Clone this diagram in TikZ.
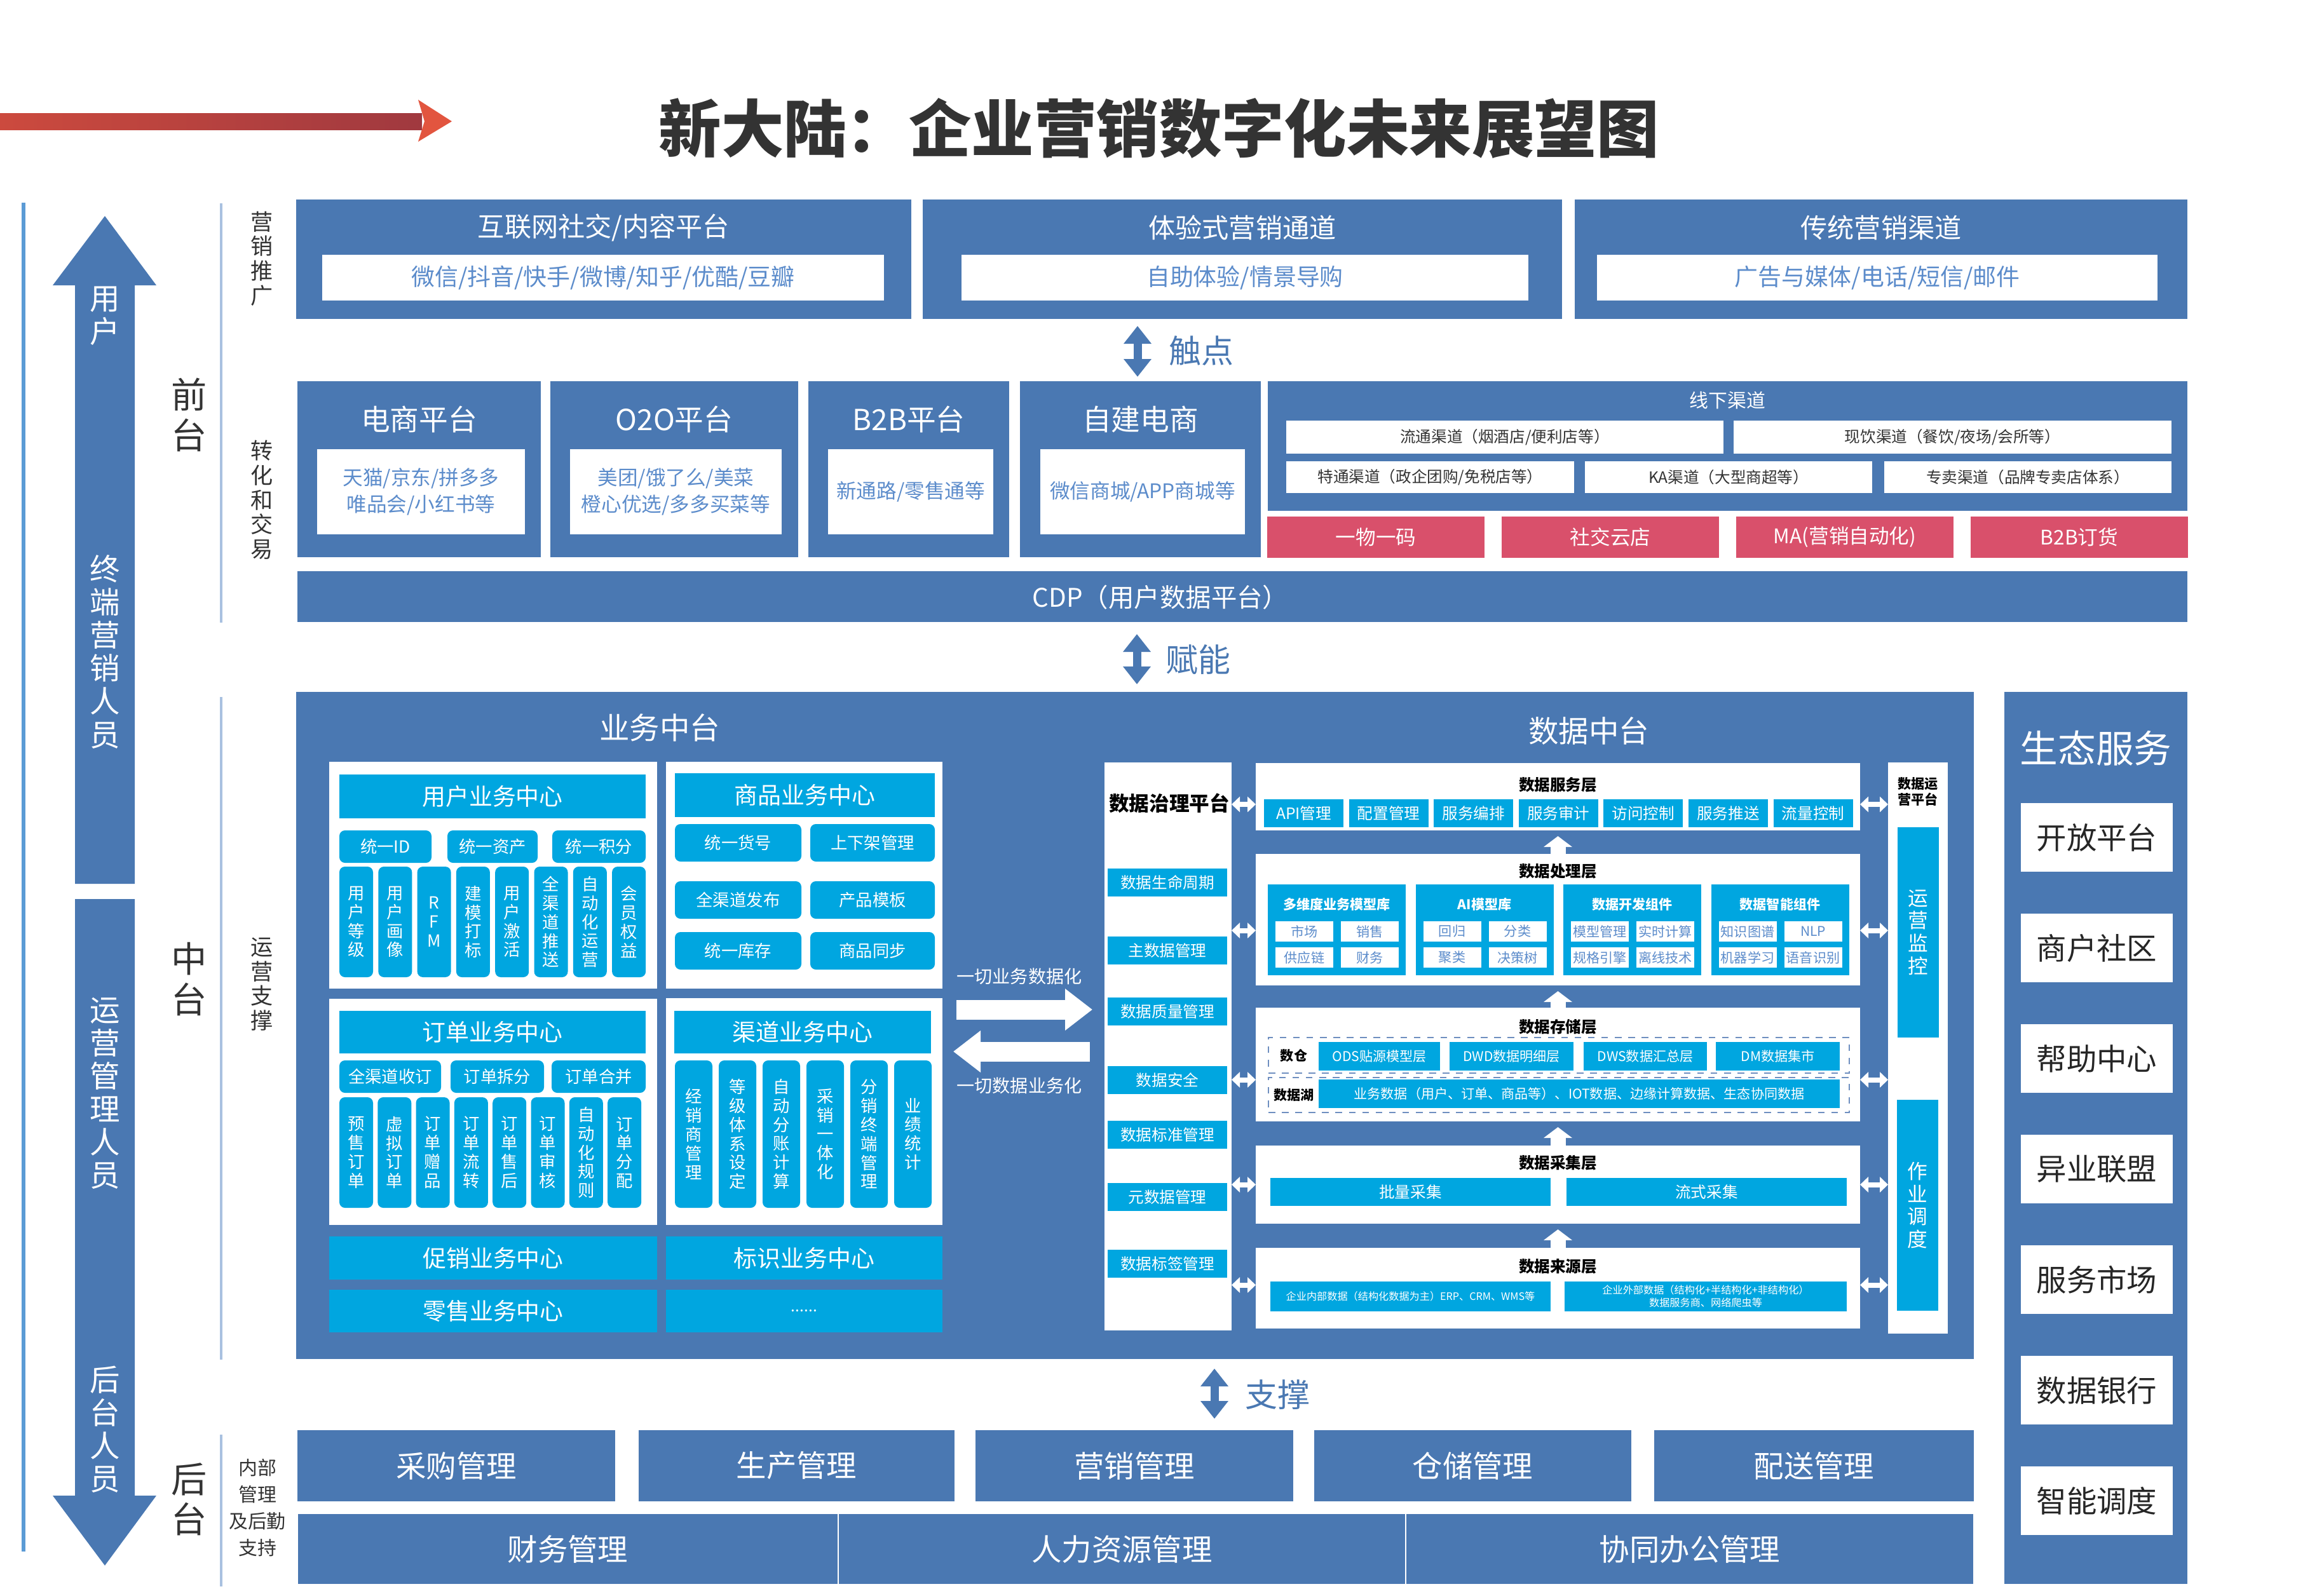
\documentclass[tikz,border=0pt]{standalone}
\usepackage{fontspec}
\setmainfont{Noto Sans CJK SC}
\usepackage{tikz}
\usetikzlibrary{arrows.meta, positioning}
\definecolor{PlanBlue}{HTML}{4A78B2}
\definecolor{PlanCyan}{HTML}{00A6E0}
\definecolor{PlanRose}{HTML}{D9506B}
\definecolor{PlanSoft}{HTML}{5C8CCB}
\definecolor{PlanRule}{HTML}{A9C1E0}
\definecolor{PlanEdge}{HTML}{5B9BD5}
\definecolor{PlanInk}{HTML}{333333}
\definecolor{PlanDash}{HTML}{6F8FC0}
\definecolor{ArrowRedA}{HTML}{CC4A3E}
\definecolor{ArrowRedB}{HTML}{A0393F}
\definecolor{ArrowRedC}{HTML}{E2553F}
\newcommand\fsz[2]{\fontsize{#1pt}{#2pt}\selectfont}

\begin{document}
\begin{tikzpicture}[
  panel/.style={fill=PlanBlue, text=white, anchor=north west, inner sep=0pt, outer sep=0pt, align=center},
  card/.style={fill=white, anchor=north west, inner sep=0pt, outer sep=0pt, align=center},
  chip/.style={fill=PlanCyan, text=white, anchor=north west, inner sep=0pt, outer sep=0pt, align=center},
  tile/.style={chip, rounded corners=2.5pt},
  rosebox/.style={fill=PlanRose, text=white, anchor=north west, inner sep=0pt, outer sep=0pt, font=\fsz{9}{10}},
  cell/.style={card, text=PlanSoft, font=\fsz{6}{7}, minimum width=0.91cm, minimum height=0.32cm},
  layer/.style={card, minimum width=9.51cm},
  lyttl/.style={font=\bfseries\fsz{7}{8}, text=black},
  dashbox/.style={draw=PlanDash, dashed, line width=0.6pt, anchor=north west, inner sep=0pt, outer sep=0pt, minimum width=9.14cm},
  vlabel/.style={align=center, text=PlanInk},
  dblarr/.style={<->, >={Triangle[width=0.42cm,length=0.28cm]}, line width=0.13cm, draw=PlanBlue},
  linkarr/.style={<->, >={Triangle[width=0.24cm,length=0.13cm]}, line width=0.08cm, draw=white},
  uparr/.style={-{Triangle[width=0.44cm,length=0.17cm]}, line width=0.24cm, draw=white, shorten >=0.09cm},
  bigarr/.style={-{Triangle[width=0.63cm,length=0.43cm]}, line width=0.31cm, draw=white}
]
  \useasboundingbox (0,0) rectangle (36.57,-25.11);

  % title and red pointer
  \node[font=\bfseries\fsz{28}{30}, text=PlanInk] (title) at (18.24,-2.02) {新大陆：企业营销数字化未来展望图};
  \fill[left color=ArrowRedA, right color=ArrowRedB] (0,-1.78) rectangle (6.64,-2.04);
  \fill[ArrowRedC] (6.58,-1.57) -- (7.11,-1.91) -- (6.58,-2.23) -- (6.68,-1.91) -- cycle;

  % left side: roles and tiers
  \draw[PlanEdge, line width=0.06cm] (0.37,-3.19) -- (0.37,-24.42);
  \fill[PlanBlue] (1.65,-3.40) -- (2.46,-4.49) -- (2.12,-4.49) -- (2.12,-13.91) -- (1.18,-13.91) -- (1.18,-4.49) -- (0.83,-4.49) -- cycle;
  \fill[PlanBlue] (1.18,-14.15) -- (2.12,-14.15) -- (2.12,-23.54) -- (2.46,-23.54) -- (1.65,-24.64) -- (0.83,-23.54) -- (1.18,-23.54) -- cycle;
  \node[align=center, text=white, font=\fsz{13.5}{14.8}] (rUser) at (1.65,-4.97) {用\\户};
  \node[align=center, text=white, font=\fsz{13.5}{14.8}] (rTerm) at (1.65,-10.26) {终\\端\\营\\销\\人\\员};
  \node[align=center, text=white, font=\fsz{13.5}{14.8}] (rOps) at (1.65,-17.21) {运\\营\\管\\理\\人\\员};
  \node[align=center, text=white, font=\fsz{13.5}{14.8}] (rBack) at (1.65,-22.50) {后\\台\\人\\员};

  \node[vlabel, font=\fsz{16}{18}] (tFront) at (2.98,-6.53) {前\\台};
  \node[vlabel, font=\fsz{16}{18}] (tMid) at (2.98,-15.41) {中\\台};
  \node[vlabel, font=\fsz{16}{18}] (tBack) at (2.98,-23.60) {后\\台};
  \draw[PlanRule, line width=0.035cm] (3.48,-3.20) -- (3.48,-9.80);
  \draw[PlanRule, line width=0.035cm] (3.48,-10.97) -- (3.48,-21.40);
  \draw[PlanRule, line width=0.035cm] (3.48,-22.58) -- (3.48,-24.97);
  \node[vlabel, font=\fsz{10}{11}] (lPromo) at (4.12,-4.07) {营\\销\\推\\广};
  \node[vlabel, font=\fsz{10}{11}] (lTrade) at (4.12,-7.87) {转\\化\\和\\交\\易};
  \node[vlabel, font=\fsz{10}{11}] (lSupport) at (4.12,-15.49) {运\\营\\支\\撑};
  \node[vlabel, font=\fsz{8.5}{12}] (lInner) at (4.05,-23.73) {内部\\管理\\及后勤\\支持};

  % marketing promotion row
  \node[panel, minimum width=9.68cm, minimum height=1.88cm] (pNet) at (4.66,-3.14) {};
  \node[text=white, font=\fsz{12}{14}] at ([yshift=-0.44cm]pNet.north) {互联网社交/内容平台};
  \node[card, text=PlanSoft, font=\fsz{10.5}{12}, minimum width=8.84cm, minimum height=0.72cm] (cNet) at (5.07,-4.01) {微信/抖音/快手/微博/知乎/优酷/豆瓣};
  \node[panel, minimum width=10.06cm, minimum height=1.88cm] (pExp) at (14.52,-3.14) {};
  \node[text=white, font=\fsz{12}{14}] at ([yshift=-0.44cm]pExp.north) {体验式营销通道};
  \node[card, text=PlanSoft, font=\fsz{10.5}{12}, minimum width=8.92cm, minimum height=0.72cm] (cExp) at (15.13,-4.01) {自助体验/情景导购};
  \node[panel, minimum width=9.64cm, minimum height=1.88cm] (pTrad) at (24.78,-3.14) {};
  \node[text=white, font=\fsz{12}{14}] at ([yshift=-0.44cm]pTrad.north) {传统营销渠道};
  \node[card, text=PlanSoft, font=\fsz{10.5}{12}, minimum width=8.82cm, minimum height=0.72cm] (cTrad) at (25.13,-4.01) {广告与媒体/电话/短信/邮件};

  \coordinate (touchTop) at (17.90,-5.13);
  \coordinate (touchBot) at (17.90,-5.93);
  \draw[dblarr] (touchTop) -- (touchBot);
  \node[text=PlanBlue, font=\fsz{14.5}{16}] (lTouch) at (18.90,-5.52) {触点};

  % conversion and trade row
  \node[panel, minimum width=3.83cm, minimum height=2.77cm] (pEc) at (4.68,-6.00) {};
  \node[text=white, font=\fsz{13}{15}] at ([yshift=-0.60cm]pEc.north) {电商平台};
  \node[card, text=PlanSoft, font=\fsz{9}{12}, minimum width=3.27cm, minimum height=1.34cm] (cEc) at (4.99,-7.07) {天猫/京东/拼多多\\唯品会/小红书等};
  \node[panel, minimum width=3.90cm, minimum height=2.77cm] (pOto) at (8.66,-6.00) {};
  \node[text=white, font=\fsz{13}{15}] at ([yshift=-0.60cm]pOto.north) {O2O平台};
  \node[card, text=PlanSoft, font=\fsz{9}{12}, minimum width=3.33cm, minimum height=1.34cm] (cOto) at (8.97,-7.07) {美团/饿了么/美菜\\橙心优选/多多买菜等};
  \node[panel, minimum width=3.16cm, minimum height=2.77cm] (pBtb) at (12.72,-6.00) {};
  \node[text=white, font=\fsz{13}{15}] at ([yshift=-0.60cm]pBtb.north) {B2B平台};
  \node[card, text=PlanSoft, font=\fsz{9}{12}, minimum width=2.60cm, minimum height=1.34cm] (cBtb) at (13.03,-7.07) {新通路/零售通等};
  \node[panel, minimum width=3.79cm, minimum height=2.77cm] (pSelf) at (16.05,-6.00) {};
  \node[text=white, font=\fsz{13}{15}] at ([yshift=-0.60cm]pSelf.north) {自建电商};
  \node[card, text=PlanSoft, font=\fsz{9}{12}, minimum width=3.22cm, minimum height=1.34cm] (cSelf) at (16.37,-7.07) {微信商城/APP商城等};

  \node[panel, minimum width=14.47cm, minimum height=2.04cm] (pOff) at (19.95,-6.00) {};
  \node[text=white, font=\fsz{8.5}{10}] at ([yshift=-0.30cm]pOff.north) {线下渠道};
  \node[card, text=PlanInk, font=\fsz{7}{8}, minimum width=6.88cm, minimum height=0.52cm] (cFlow) at (20.24,-6.62) {流通渠道（烟酒店/便利店等）};
  \node[card, text=PlanInk, font=\fsz{7}{8}, minimum width=6.89cm, minimum height=0.52cm] (cDrink) at (27.28,-6.62) {现饮渠道（餐饮/夜场/会所等）};
  \node[card, text=PlanInk, font=\fsz{7}{8}, minimum width=4.53cm, minimum height=0.50cm] (cSpec) at (20.24,-7.26) {特通渠道（政企团购/免税店等）};
  \node[card, text=PlanInk, font=\fsz{7}{8}, minimum width=4.52cm, minimum height=0.50cm] (cKa) at (24.94,-7.26) {KA渠道（大型商超等）};
  \node[card, text=PlanInk, font=\fsz{7}{8}, minimum width=4.52cm, minimum height=0.50cm] (cBrand) at (29.65,-7.26) {专卖渠道（品牌专卖店体系）};
  \foreach \t [count=\i from 0] in {一物一码, 社交云店, MA(营销自动化), B2B订货}
    \node[rosebox, minimum width=3.42cm, minimum height=0.65cm] (rose\i) at ({19.94+3.69*\i},-8.13) {\t};

  \node[panel, minimum width=29.74cm, minimum height=0.80cm] (pCdp) at (4.68,-8.99) {};
  \node[text=white, font=\fsz{11.5}{13}] at (18.26,-9.40) {CDP（用户数据平台）};

  \coordinate (powerTop) at (17.89,-9.98);
  \coordinate (powerBot) at (17.89,-10.77);
  \draw[dblarr] (powerTop) -- (powerBot);
  \node[text=PlanBlue, font=\fsz{14.5}{16}] (lPower) at (18.85,-10.38) {赋能};

  % middle platform
  \node[panel, minimum width=26.40cm, minimum height=10.50cm] (pMid) at (4.66,-10.89) {};
  \node[text=white, font=\fsz{13.5}{15}] at (10.38,-11.45) {业务中台};
  \node[text=white, font=\fsz{13.5}{15}] at (25.00,-11.50) {数据中台};

  % user center
  \node[card, minimum width=5.16cm, minimum height=3.57cm] (bUser) at (5.18,-11.99) {};
  \node[chip, font=\fsz{10.5}{12}, minimum width=4.82cm, minimum height=0.69cm] (hUser) at (5.34,-12.19) {用户业务中心};
  \node[tile, font=\fsz{7.5}{9}, minimum width=1.45cm, minimum height=0.51cm] at (5.34,-13.07) {统一ID};
  \node[tile, font=\fsz{7.5}{9}, minimum width=1.42cm, minimum height=0.51cm] at (7.04,-13.07) {统一资产};
  \node[tile, font=\fsz{7.5}{9}, minimum width=1.47cm, minimum height=0.51cm] at (8.69,-13.07) {统一积分};
  \foreach \t [count=\i from 0] in {{用\\户\\等\\级}, {用\\户\\画\\像}, {R\\F\\M}, {建\\模\\打\\标}, {用\\户\\激\\活}, {全\\渠\\道\\推\\送}, {自\\动\\化\\运\\营}, {会\\员\\权\\益}}
    \node[tile, font=\fsz{7.5}{8.5}, minimum width=0.53cm, minimum height=1.74cm] (uc\i) at ({5.34+0.613*\i},-13.64) {\t};

  % goods center
  \node[card, minimum width=4.35cm, minimum height=3.57cm] (bGoods) at (10.48,-11.99) {};
  \node[chip, font=\fsz{10.5}{12}, minimum width=4.09cm, minimum height=0.69cm] (hGoods) at (10.62,-12.17) {商品业务中心};
  \foreach \a/\b/\ty in {统一货号/上下架管理/12.97, 全渠道发布/产品模板/13.87, 统一库存/商品同步/14.67} {
    \node[tile, font=\fsz{7.5}{9}, minimum width=1.99cm, minimum height=0.59cm] at (10.62,-\ty) {\a};
    \node[tile, font=\fsz{7.5}{9}, minimum width=1.96cm, minimum height=0.59cm] at (12.75,-\ty) {\b};
  }

  % order center
  \node[card, minimum width=5.16cm, minimum height=3.56cm] (bOrder) at (5.18,-15.72) {};
  \node[chip, font=\fsz{10.5}{12}, minimum width=4.82cm, minimum height=0.67cm] (hOrder) at (5.34,-15.91) {订单业务中心};
  \node[tile, font=\fsz{7.5}{9}, minimum width=1.60cm, minimum height=0.51cm] at (5.34,-16.69) {全渠道收订};
  \node[tile, font=\fsz{7.5}{9}, minimum width=1.47cm, minimum height=0.51cm] at (7.09,-16.69) {订单拆分};
  \node[tile, font=\fsz{7.5}{9}, minimum width=1.48cm, minimum height=0.51cm] at (8.68,-16.69) {订单合并};
  \foreach \t [count=\i from 0] in {{预\\售\\订\\单}, {虚\\拟\\订\\单}, {订\\单\\赠\\品}, {订\\单\\流\\转}, {订\\单\\售\\后}, {订\\单\\审\\核}, {自\\动\\化\\规\\则}, {订\\单\\分\\配}}
    \node[tile, font=\fsz{7.5}{8.5}, minimum width=0.53cm, minimum height=1.74cm] (oc\i) at ({5.34+0.603*\i},-17.27) {\t};

  % channel center
  \node[card, minimum width=4.35cm, minimum height=3.57cm] (bChan) at (10.48,-15.71) {};
  \node[chip, font=\fsz{10.5}{12}, minimum width=4.04cm, minimum height=0.67cm] (hChan) at (10.61,-15.91) {渠道业务中心};
  \foreach \t [count=\i from 0] in {{经\\销\\商\\管\\理}, {等\\级\\体\\系\\设\\定}, {自\\动\\分\\账\\计\\算}, {采\\销\\一\\体\\化}, {分\\销\\终\\端\\管\\理}, {业\\绩\\统\\计}}
    \node[tile, font=\fsz{7.5}{8.5}, minimum width=0.59cm, minimum height=2.32cm] (cc\i) at ({10.62+0.69*\i},-16.69) {\t};

  \node[chip, font=\fsz{10.5}{12}, minimum width=5.16cm, minimum height=0.68cm] (bPromo) at (5.18,-19.46) {促销业务中心};
  \node[chip, font=\fsz{10.5}{12}, minimum width=4.35cm, minimum height=0.68cm] (bMark) at (10.48,-19.46) {标识业务中心};
  \node[chip, font=\fsz{10.5}{12}, minimum width=5.16cm, minimum height=0.67cm] (bRetail) at (5.18,-20.30) {零售业务中心};
  \node[chip, font=\fsz{7}{8}, minimum width=4.35cm, minimum height=0.67cm] (bMore) at (10.48,-20.30) {......};

  % business <-> data
  \coordinate (bizA) at (15.05,-15.89);
  \coordinate (bizB) at (17.19,-15.89);
  \coordinate (datA) at (17.15,-16.55);
  \coordinate (datB) at (15.00,-16.55);
  \draw[bigarr] (bizA) -- (bizB);
  \draw[bigarr] (datA) -- (datB);
  \node[text=white, font=\fsz{8}{9}] at (16.04,-15.37) {一切业务数据化};
  \node[text=white, font=\fsz{8}{9}] at (16.04,-17.09) {一切数据业务化};

  % data governance
  \node[card, minimum width=2.00cm, minimum height=8.94cm] (gov) at (17.38,-12.00) {};
  \node[font=\bfseries\fsz{9}{10}, text=black] at (18.40,-12.64) {数据治理平台};
  \foreach \t/\cy in {数据生命周期/13.89, 主数据管理/14.96, 数据质量管理/15.92, 数据安全/17.00, 数据标准管理/17.86, 元数据管理/18.84, 数据标签管理/19.89}
    \node[chip, anchor=center, font=\fsz{7}{8}, minimum width=1.88cm, minimum height=0.44cm] at (18.37,-\cy) {\t};

  % data layers
  \node[layer, minimum height=1.06cm] (lServ) at (19.76,-12.01) {};
  \node[lyttl] at ([yshift=-0.34cm]lServ.north) {数据服务层};
  \foreach \t [count=\i from 0] in {API管理, 配置管理, 服务编排, 服务审计, 访问控制, 服务推送, 流量控制}
    \node[chip, font=\fsz{7}{8}, minimum width=1.25cm, minimum height=0.44cm] at ({19.89+1.336*\i},-12.58) {\t};

  \node[layer, minimum height=2.07cm] (lProc) at (19.76,-13.44) {};
  \node[lyttl] at ([yshift=-0.27cm]lProc.north) {数据处理层};
  \foreach \t/\a/\b/\c/\d [count=\i from 0] in {多维度业务模型库/市场/销售/供应链/财务, AI模型库/回归/分类/聚类/决策树, 数据开发组件/模型管理/实时计算/规格引擎/离线技术, 数据智能组件/知识图谱/NLP/机器学习/语音识别} {
    \node[chip, minimum width=2.17cm, minimum height=1.43cm] (pm\i) at ({19.95+2.325*\i},-13.92) {};
    \node[font=\bfseries\fsz{6}{7}, text=white] at ([yshift=-0.31cm]pm\i.north) {\t};
    \node[cell] at ([xshift=0.12cm,yshift=-0.58cm]pm\i.north west) {\a};
    \node[cell] at ([xshift=1.15cm,yshift=-0.58cm]pm\i.north west) {\b};
    \node[cell] at ([xshift=0.12cm,yshift=-0.99cm]pm\i.north west) {\c};
    \node[cell] at ([xshift=1.15cm,yshift=-0.99cm]pm\i.north west) {\d};
  }

  \node[layer, minimum height=1.79cm] (lStor) at (19.76,-15.86) {};
  \node[lyttl] at ([yshift=-0.30cm]lStor.north) {数据存储层};
  \node[dashbox, minimum height=0.56cm] (dWare) at (19.96,-16.33) {};
  \node[dashbox, minimum height=0.55cm] (dLake) at (19.96,-16.96) {};
  \node[font=\bfseries\fsz{6}{7}, text=black] at (20.36,-16.61) {数仓};
  \node[font=\bfseries\fsz{6}{7}, text=black] at (20.36,-17.24) {数据湖};
  \foreach \t/\x/\w in {ODS贴源模型层/20.75/1.91, DWD数据明细层/22.81/1.95, DWS数据汇总层/24.92/1.94, DM数据集市/27.00/1.95}
    \node[chip, font=\fsz{6}{7}, minimum width=\w cm, minimum height=0.45cm] at (\x,-16.40) {\t};
  \node[chip, font=\fsz{6}{7}, minimum width=8.20cm, minimum height=0.45cm] (cLake) at (20.75,-16.99) {业务数据（用户、订单、商品等）、IOT数据、边缘计算数据、生态协同数据};

  \node[layer, minimum height=1.23cm] (lColl) at (19.76,-18.03) {};
  \node[lyttl] at ([yshift=-0.27cm]lColl.north) {数据采集层};
  \node[chip, font=\fsz{7}{8}, minimum width=4.41cm, minimum height=0.44cm] (cBatch) at (19.99,-18.54) {批量采集};
  \node[chip, font=\fsz{7}{8}, minimum width=4.41cm, minimum height=0.44cm] (cStream) at (24.65,-18.54) {流式采集};

  \node[layer, minimum height=1.27cm] (lSrc) at (19.76,-19.64) {};
  \node[lyttl] at ([yshift=-0.29cm]lSrc.north) {数据来源层};
  \node[chip, font=\fsz{4.6}{5.6}, minimum width=4.41cm, minimum height=0.47cm] (cInner) at (19.99,-20.17) {企业内部数据（结构化数据为主）ERP、CRM、WMS等};
  \node[chip, font=\fsz{4.6}{5.6}, minimum width=4.44cm, minimum height=0.47cm] (cOuter) at (24.62,-20.17) {企业外部数据（结构化+半结构化+非结构化）\\数据服务商、网络爬虫等};

  \foreach \a/\b in {lProc/lServ, lStor/lProc, lColl/lStor, lSrc/lColl}
    \draw[uparr] (\a.north) -- (\b.south);

  % data operation platform
  \node[card, minimum width=0.94cm, minimum height=8.99cm] (ops) at (29.71,-12.00) {};
  \node[font=\bfseries\fsz{6}{7.2}, align=center, text=black] at (30.18,-12.46) {数据运\\营平台};
  \node[chip, font=\fsz{9}{10.2}, minimum width=0.65cm, minimum height=3.31cm] (opsMon) at (29.86,-13.02) {运\\营\\监\\控};
  \node[chip, font=\fsz{9}{10.2}, minimum width=0.65cm, minimum height=3.32cm] (opsJob) at (29.85,-17.31) {作\\业\\调\\度};

  \foreach \n/\dy in {lServ/-0.12, lProc/-0.17, lStor/-0.24, lColl/0, lSrc/0.05} {
    \coordinate (k\n) at ([yshift=\dy cm]\n.west);
    \draw[linkarr] (k\n -| gov.east) -- (k\n);
    \draw[linkarr] (k\n -| lServ.east) -- (k\n -| ops.west);
  }

  % ecosystem services
  \node[panel, minimum width=2.88cm, minimum height=14.04cm] (pEco) at (31.54,-10.89) {};
  \node[text=white, font=\fsz{17}{19}] at ([yshift=-0.89cm]pEco.north) {生态服务};
  \foreach \t [count=\i from 0] in {开放平台, 商户社区, 帮助中心, 异业联盟, 服务市场, 数据银行, 智能调度}
    \node[card, text=black!85, font=\fsz{13.5}{15}, minimum width=2.39cm, minimum height=1.08cm] (eco\i) at (31.80,{-12.64-1.74*\i}) {\t};

  % back office
  \coordinate (propTop) at (19.11,-21.54);
  \coordinate (propBot) at (19.11,-22.33);
  \draw[dblarr] (propTop) -- (propBot);
  \node[text=PlanBlue, font=\fsz{14.5}{16}] (lProp) at (20.10,-21.95) {支撑};
  \foreach \t/\x/\w [count=\i from 0] in {采购管理/4.68/5.00, 生产管理/10.05/4.97, 营销管理/15.35/5.00, 仓储管理/20.68/4.99, 配送管理/26.03/5.03}
    \node[panel, font=\fsz{13.5}{15}, minimum width=\w cm, minimum height=1.12cm] (back\i) at (\x,-22.51) {\t};
  \foreach \t/\x/\w [count=\i from 0] in {财务管理/4.68/8.51, 人力资源管理/13.19/8.93, 协同办公管理/22.12/8.94}
    \node[panel, draw=white, line width=0.4pt, font=\fsz{13.5}{15}, minimum width=\w cm, minimum height=1.12cm] (base\i) at (\x,-23.82) {\t};
\end{tikzpicture}
\end{document}
